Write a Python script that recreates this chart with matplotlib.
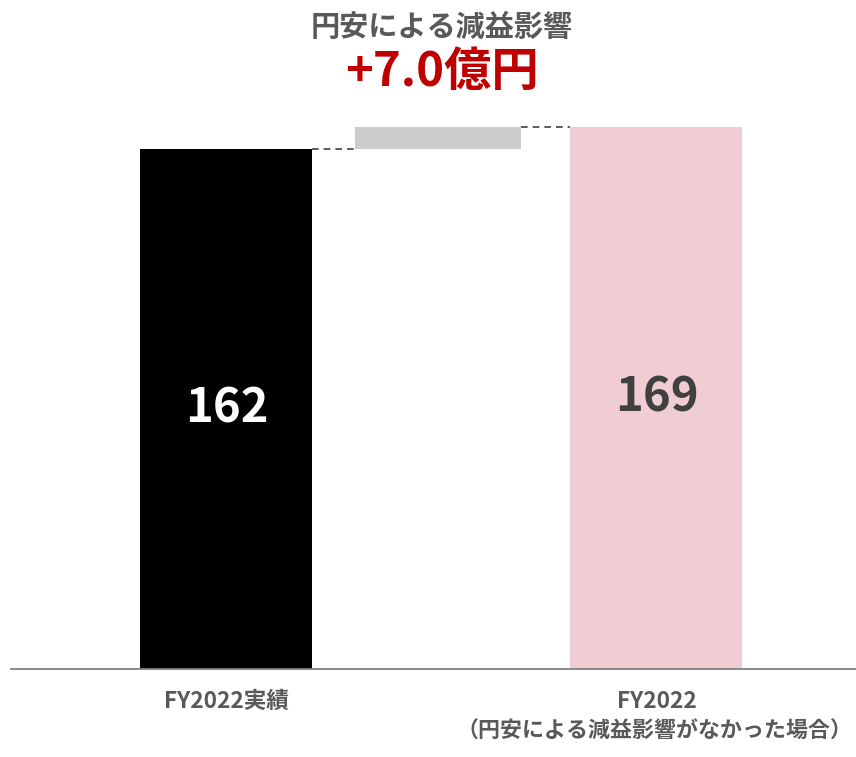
import matplotlib
matplotlib.use("Agg")
import matplotlib.pyplot as plt

plt.rcParams['font.family'] = ['Noto Sans CJK JP', 'DejaVu Sans']

# data
values = [162, 169]
impact = 7.0
bar_colors = ['#000000', '#CCCCCC', '#F0CDD2']
label_colors = ['#FFFFFF', '#404040']
categories = [['FY2022実績'], ['FY2022', '（円安による減益影響がなかった場合）']]
title = '円安による減益影響'
impact_text = '+7.0億円'


def main():
    fig = plt.figure(figsize=(8.56, 7.57), dpi=100)
    ax = fig.add_axes([11 / 856, (757 - 668.5) / 757, 845 / 856, 568.5 / 757])

    x = [0, 1, 2]
    w = 0.8
    ax.bar(x[0], values[0], width=w, color=bar_colors[0])
    ax.bar(x[1] - 0.015, impact, bottom=values[0], width=0.77, color=bar_colors[1])
    ax.bar(x[2], values[1], width=w, color=bar_colors[2])

    # connectors
    ax.plot([x[0] + w / 2, x[1] - 0.015 - 0.77 / 2], [values[0], values[0]],
            ls=(0, (4, 3)), color='#404040', lw=1.2)
    ax.plot([x[1] - 0.015 + 0.77 / 2, x[2] - w / 2], [values[1], values[1]],
            ls=(0, (4, 3)), color='#404040', lw=1.2)

    # value labels
    ax.text(x[0], values[0] / 2, str(values[0]), ha='center', va='center',
            fontsize=34, fontweight='bold', color=label_colors[0])
    ax.text(x[2], values[1] / 2, str(values[1]), ha='center', va='center',
            fontsize=34, fontweight='bold', color=label_colors[1])

    ax.set_xlim(-1.002, 2.928)
    ax.set_ylim(0, 177.4)

    trans = ax.get_xaxis_transform()
    ax.text(1, 1.128, title, transform=trans, ha='center', va='center',
            fontsize=21, fontweight='bold', color='#595959')
    ax.text(1, 1.049, impact_text, transform=trans, ha='center', va='center',
            fontsize=34, fontweight='bold', color='#C00000')

    # category labels
    for xi, lines in zip([x[0], x[2]], categories):
        for j, line in enumerate(lines):
            ax.text(xi - 0.008 * j, -0.058 - j * 0.053, line, transform=trans,
                    ha='center', va='center', fontsize=16.3 - 0.5 * j,
                    fontweight='bold', color='#595959')

    for s in ['top', 'right', 'left']:
        ax.spines[s].set_visible(False)
    ax.spines['bottom'].set_color('#7F7F7F')
    ax.spines['bottom'].set_linewidth(1.3)
    ax.set_xticks([])
    ax.set_yticks([])

    fig.savefig('out.png', dpi=100)


main()
